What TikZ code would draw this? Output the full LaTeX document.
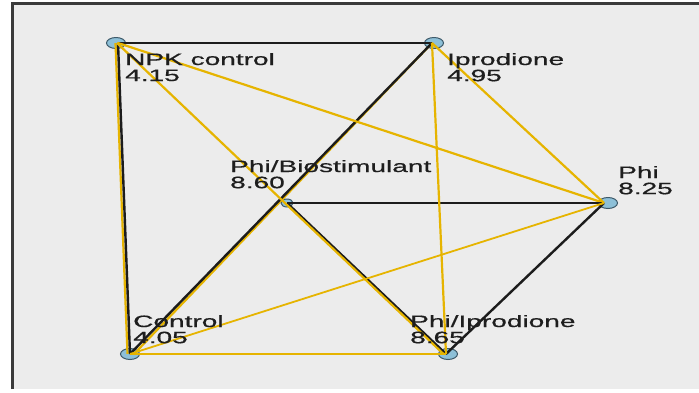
\documentclass[tikz,border=0pt]{standalone}
\usepackage{fontspec}
\setmainfont{Liberation Sans}
\newfontfamily\lblfont{Liberation Sans}[FakeBold=0.5]
\usetikzlibrary{shapes.geometric}
\definecolor{bgcol}{HTML}{ECECEC}
\definecolor{framecol}{HTML}{3A3A3A}
\definecolor{gold}{HTML}{E6B400}
\definecolor{edgeblk}{HTML}{1C1C1C}
\definecolor{nodefill}{HTML}{8DC0D8}
\definecolor{nodeline}{HTML}{3E5A6A}
\definecolor{txt}{HTML}{1E1E1E}
\tikzset{
  blk/.style={draw=edgeblk, line width=2.4pt},
  yel/.style={draw=gold, line width=2.2pt},
  vert/.style={ellipse, draw=nodeline, fill=nodefill, line width=1pt, minimum width=19pt, minimum height=11pt, inner sep=0pt},
  lbl/.style={anchor=base west, inner sep=0pt, text=txt}
}
\newcommand{\mylab}[2]{\scalebox{1.7}[1]{\lblfont\fontsize{16.5}{15.5}\selectfont\begin{tabular}[t]{@{}l@{}}#1\\#2\end{tabular}}}
\begin{document}
\begin{tikzpicture}[x=1pt,y=-1pt]
\useasboundingbox (0,0) rectangle (699,392);
\fill[white] (0,0) rectangle (699,392);
\fill[bgcol] (12,3) rectangle (699,389);
\draw[framecol, line width=2.5pt] (12.5,389) -- (12.5,3.5) -- (699,3.5);
% vertices (connector meeting points)
\coordinate (npk) at (118,43);
\coordinate (ipro) at (432,43);
\coordinate (pbio) at (287,203);
\coordinate (phi) at (604,203);
\coordinate (ctrl) at (130,354);
\coordinate (pipr) at (446,354);
% node markers
\node[vert] (npkm) at ([xshift=-2pt]npk) {};
\node[vert] (iprom) at ([xshift=2pt]ipro) {};
\node[vert, minimum width=12pt, minimum height=8pt] (pbiom) at (pbio) {};
\node[vert] (phim) at ([xshift=4pt]phi) {};
\node[vert] (ctrlm) at (ctrl) {};
\node[vert] (piprm) at ([xshift=2pt]pipr) {};
% edges
\draw[yel] ([xshift=-2.5pt]npk) -- ([xshift=-2.5pt]ctrl);
\draw[blk] (npk) -- (ctrl);
\draw[blk] (npk) -- (ipro);
\draw[yel] (ipro) -- ([xshift=4pt]ctrl);
\draw[blk] (ipro) -- (ctrl);
\draw[yel] (npk) -- (phi);
\draw[blk] (pbio) -- (pipr);
\draw[yel] ([xshift=-1pt]npk) -- ([xshift=-2.5pt]pipr);
\draw[blk] (pbio) -- (phi);
\draw[blk] (phi) -- (pipr);
\draw[yel] (ipro) -- (pipr);
\draw[yel] (ipro) -- (phi);
\draw[yel, line width=1.8pt] (ctrl) -- (phi);
\draw[yel] (ctrl) -- (pipr);
% labels
\node[lbl] (npkl) at (125,65) {\mylab{NPK control}{4.15}};
\node[lbl] (iprol) at (447,65) {\mylab{Iprodione}{4.95}};
\node[lbl] (pbiol) at (230,172) {\mylab{Phi/Biostimulant}{8.60}};
\node[lbl] (phil) at (618,178) {\mylab{Phi}{8.25}};
\node[lbl] (ctrll) at (133,327) {\mylab{Control}{4.05}};
\node[lbl] (piprl) at (410,327) {\mylab{Phi/Iprodione}{8.65}};
\end{tikzpicture}
\end{document}
